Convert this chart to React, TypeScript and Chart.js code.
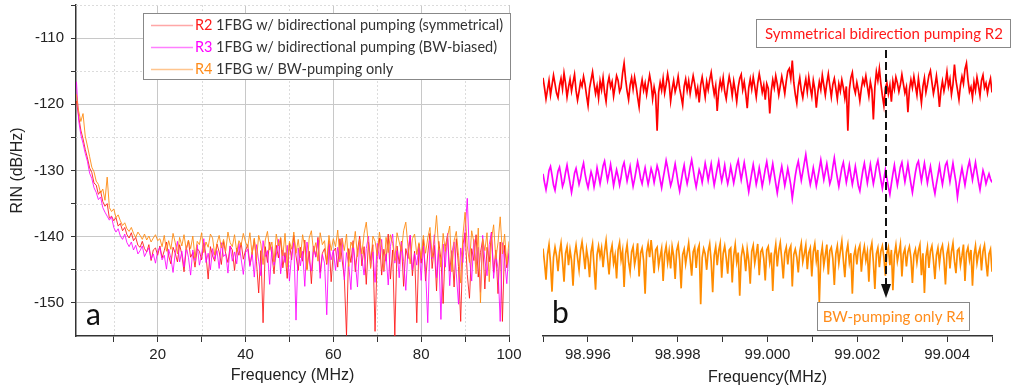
import React, { useEffect, useRef } from "react";
import { Chart, registerables } from "chart.js";
Chart.register(...registerables);

// ---------- Panel a data (frequency 1.5 .. 100 MHz, 0.5 MHz step) ----------
const A_START = 1.5;
const A_STEP = 0.5;
const R2_A = [
  -119.5, -121.8, -123.9, -125.2, -126.8, -128.1, -129.6, -130.3, -131.9, -132.2,
  -133.6, -133.1, -134.7, -135.4, -135.0, -137.2, -136.9, -137.6, -137.1, -138.4,
  -138.0, -139.1, -138.6, -139.7, -140.2, -139.4, -140.6, -140.1, -141.3, -141.6,
  -140.7, -141.8, -142.3, -141.2, -143.6, -142.0, -141.7, -142.8,
  -141.4, -143.2, -142.1, -140.8, -142.9, -144.1, -141.6, -142.5, -143.8, -141.2,
  -142.7, -145.3, -141.9, -140.6, -143.1, -142.4, -144.6, -141.8, -142.2, -143.5,
  -140.9, -142.8, -146.4, -141.5, -142.9, -143.7, -141.1, -142.3, -144.2, -140.7,
  -142.6, -143.9, -141.4, -142.0, -145.1, -141.7, -142.8, -140.9, -143.4, -142.1,
  -141.2, -144.3, -142.6, -140.4, -143.8, -148.5, -142.1, -153.0, -141.5, -143.9,
  -140.8, -142.7, -145.6, -141.3, -143.2, -140.2, -144.7, -142.4, -146.3, -141.0,
  -143.5, -139.8, -142.9, -145.1, -141.6, -143.7, -140.5, -144.9, -142.2, -147.1,
  -141.4, -143.0, -140.1, -145.4, -142.5, -141.8, -144.2, -140.6, -146.8, -142.3,
  -141.7, -144.6, -140.3, -143.5, -146.2, -154.9, -141.8, -143.9, -140.6, -145.3,
  -142.1, -139.9, -144.4, -141.5, -147.2, -140.8, -143.6, -141.2, -154.3, -142.4,
  -140.2, -145.8, -141.9, -143.7, -139.6, -146.4, -142.0, -155.0, -141.4, -144.1,
  -140.7, -147.5, -141.8, -143.3, -139.8, -145.9, -142.2, -153.0, -141.1, -144.0,
  -140.4, -146.7, -142.6, -139.5, -144.8, -141.3, -148.2, -140.7, -143.4, -150.1,
  -141.5, -139.8, -145.2, -142.1, -147.6, -140.3, -144.5, -152.8, -141.2, -139.4,
  -145.7, -149.3, -141.8, -143.6, -139.7, -146.1, -142.4, -140.5, -147.9, -141.6,
  -143.8, -139.3, -145.4, -142.0, -148.6, -140.8, -152.8, -141.3, -144.7, -142.5,
];
const R3_A = [
  -116.6, -122.4, -124.6, -125.9, -127.4, -128.6, -130.4, -131.2, -132.6, -133.3,
  -134.4, -134.0, -135.6, -136.3, -136.9, -137.5, -137.0, -138.6, -139.3, -138.8,
  -139.9, -140.4, -139.6, -140.9, -141.5, -140.8, -142.0, -141.3, -142.6, -142.1,
  -141.4, -143.0, -142.3, -141.7, -143.4, -142.6, -144.0, -142.2,
  -141.6, -143.5, -142.8, -144.9, -141.9, -143.2, -145.4, -142.4, -140.7, -143.8,
  -142.2, -144.6, -141.5, -143.1, -145.8, -142.0, -143.6, -141.2, -144.3, -142.7,
  -140.3, -143.9, -142.5, -145.0, -141.8, -143.4, -142.1, -144.8, -140.9, -143.0,
  -142.6, -145.5, -141.4, -143.7, -142.3, -144.1, -141.0, -143.3, -145.7, -142.4,
  -141.9, -144.5, -142.3, -146.1, -141.2, -143.7, -145.9, -140.6, -143.0, -142.1,
  -147.2, -141.5, -144.3, -142.8, -140.4, -145.6, -142.0, -143.9, -141.3, -146.7,
  -142.6, -140.9, -152.6, -141.7, -144.4, -142.2, -147.5, -140.8, -143.6, -145.2,
  -141.4, -143.1, -140.5, -146.3, -142.7, -144.0, -151.8, -141.1, -143.5, -142.0,
  -145.1, -141.6, -143.8, -140.2, -146.5, -142.4, -144.2, -148.0, -141.3, -143.9,
  -147.6, -140.7, -143.2, -145.8, -141.8, -139.9, -144.6, -142.3, -146.9, -141.0,
  -143.4, -140.4, -145.3, -142.6, -147.3, -141.5, -139.6, -144.0, -142.1, -146.2,
  -140.8, -143.7, -148.1, -141.9, -139.8, -145.0, -142.5, -144.3, -141.2, -146.6,
  -141.4, -144.9, -153.0, -140.6, -143.3, -139.7, -146.2, -142.0, -152.5, -141.1,
  -144.6, -139.5, -147.4, -142.3, -140.8, -145.5, -150.2, -141.7, -143.9, -139.2,
  -134.2, -143.1, -146.7, -140.4, -144.2, -141.6, -148.4, -139.8, -143.5, -145.9,
  -141.2, -139.4, -146.3, -142.7, -144.8, -152.8, -140.9, -143.6, -147.1, -141.8,
];
const R4_A = [
  -118.5, -121.0, -122.6, -121.4, -124.8, -126.3, -127.9, -129.5, -130.2, -131.6,
  -132.1, -133.4, -132.8, -134.5, -131.0, -135.6, -136.2, -135.8, -137.1, -136.7,
  -137.6, -138.3, -137.9, -138.8, -139.2, -138.6, -139.5, -140.1, -139.3, -139.8,
  -140.4, -139.6, -140.5, -139.9, -140.8, -140.2, -139.7, -140.6,
  -140.3, -141.5, -139.8, -142.2, -140.6, -141.9, -139.5, -140.9, -142.6, -140.1,
  -141.4, -139.7, -142.0, -140.5, -141.8, -139.9, -143.2, -140.7, -141.2, -139.4,
  -142.4, -140.8, -141.6, -139.6, -140.2, -142.8, -141.0, -139.8, -141.7, -140.4,
  -142.1, -139.3, -140.9, -141.5, -139.7, -142.3, -140.6, -141.3, -139.5, -140.8,
  -141.6, -139.4, -142.7, -140.2, -143.5, -139.8, -141.1, -144.2, -140.5, -139.2,
  -142.0, -140.8, -143.8, -139.6, -141.4, -140.1, -142.9, -139.5, -144.6, -140.7,
  -141.9, -139.3, -142.5, -140.4, -143.2, -139.7, -141.6, -145.1, -140.2, -139.1,
  -142.3, -140.9, -143.7, -139.4, -141.2, -140.6, -144.0, -139.8, -142.1, -140.3,
  -141.5, -139.0, -143.4, -140.2, -142.1, -139.6, -144.5, -140.8, -141.7, -139.2,
  -143.0, -140.4, -142.6, -139.5, -137.8, -141.3, -144.8, -139.9, -140.7, -142.9,
  -139.3, -141.6, -145.2, -140.1, -142.4, -139.7, -141.0, -143.6, -139.4, -140.8,
  -142.2, -139.1, -137.8, -141.5, -144.1, -140.3, -139.6, -142.7, -140.9, -143.3,
  -139.8, -142.5, -140.2, -138.6, -143.1, -140.7, -136.8, -141.9, -144.6, -139.5,
  -142.2, -140.0, -138.4, -145.3, -140.6, -139.2, -142.8, -147.0, -139.9, -136.3,
  -141.4, -143.9, -139.1, -140.8, -145.6, -138.7, -150.0, -140.3, -142.1, -139.4,
  -146.8, -140.5, -138.2, -143.4, -140.9, -137.0, -142.6, -139.6, -144.2, -140.7,
];
const A_X_TICKS = [10, 20, 30, 40, 50, 60, 70, 80, 90, 100];
const A_X_LABELED = [20, 40, 60, 80, 100];
const A_Y_TICKS = [-150, -145, -140, -135, -130, -125, -120, -115, -110, -105];
const A_Y_LABELED = [-150, -140, -130, -120, -110];
const LEGEND_A = [
  { tag: "R2", text: "1FBG w/ bidirectional pumping (symmetrical)", color: "#ff1a1a", line: "rgba(255,60,60,0.45)" },
  { tag: "R3", text: "1FBG w/ bidirectional pumping (BW-biased)", color: "#ff00ff", line: "rgba(255,0,255,0.5)" },
  { tag: "R4", text: "1FBG w/ BW-pumping only", color: "#ff8c1a", line: "rgba(255,140,30,0.5)" },
];

// ---------- Panel b data (98.995 .. 99.005 MHz, 300 samples) ----------
const B_START = 98.995;
const B_END = 99.005;
const R2_B = [
  -116.0, -117.5, -119.2, -117.8, -116.4, -118.6, -117.1, -115.6, -116.9, -118.3,
  -119.0, -117.2, -116.1, -117.7, -115.3, -116.8, -118.9, -117.4, -116.2, -118.0,
  -116.7, -115.5, -117.9, -119.4, -118.1, -116.6, -117.3, -115.8, -117.0, -118.7,
  -120.2, -117.6, -116.3, -115.1, -116.9, -118.4, -117.2, -119.1, -116.5, -117.8,
  -116.0, -118.2, -119.6, -117.0, -115.9, -117.4, -116.6, -118.8, -117.3, -115.7,
  -116.4, -118.1, -117.5, -115.3, -113.8, -116.2, -118.0, -119.3, -117.1, -116.0,
  -117.7, -115.9, -117.2, -118.9, -120.4, -117.6, -116.3, -117.9, -116.8, -118.5,
  -117.0, -115.6, -116.9, -119.2, -117.4, -118.6, -124.0, -118.2, -116.7, -117.9,
  -116.1, -118.3, -117.0, -115.4, -116.8, -119.5, -117.7, -116.4, -118.1, -117.2,
  -115.8, -117.6, -118.8, -120.1, -117.3, -116.2, -117.9, -116.5, -118.4, -117.0,
  -115.7, -116.9, -118.6, -117.5, -119.7, -117.1, -115.9, -117.4, -118.9, -116.6,
  -117.8, -116.3, -115.2, -117.0, -118.5, -117.2, -121.0, -118.0, -116.4, -117.6,
  -116.0, -118.1, -119.2, -117.3, -115.8, -117.0, -118.7, -116.5, -117.9, -119.6,
  -117.4, -116.1, -115.5, -117.8, -116.6, -118.3, -120.6, -117.5, -116.2, -117.7,
  -115.9, -117.3, -118.9, -116.8, -115.4, -116.7, -118.2, -117.1, -119.3, -116.9,
  -117.6, -121.4, -118.0, -116.3, -117.5, -115.7, -116.9, -118.6, -117.2, -115.8,
  -117.0, -118.4, -116.5, -115.0, -114.6, -116.1, -113.4, -116.7, -118.5, -119.8,
  -117.3, -116.0, -117.9, -119.0, -117.4, -116.2, -118.1, -115.9, -117.5, -118.8,
  -116.4, -117.7, -120.5, -118.2, -116.6, -117.8, -115.6, -117.1, -118.6, -116.8,
  -115.4, -117.2, -118.9, -117.0, -116.1, -117.6, -119.2, -116.9, -118.0, -116.3,
  -117.5, -119.1, -117.3, -124.0, -117.8, -116.0, -115.2, -117.4, -118.3, -116.7,
  -117.9, -119.5, -117.6, -116.2, -117.0, -115.7, -117.3, -118.8, -116.6, -117.8,
  -122.3, -117.4, -115.1, -116.4, -114.6, -116.9, -118.7, -120.2, -117.5, -116.8,
  -118.4, -117.1, -119.6, -116.5, -117.7, -115.9, -116.8, -118.1, -117.0, -115.5,
  -116.9, -118.3, -117.4, -121.2, -117.8, -116.3, -117.5, -115.8, -117.2, -118.6,
  -116.1, -117.9, -119.8, -117.3, -116.0, -118.2, -117.0, -115.6, -114.9, -116.7,
  -118.4, -117.2, -115.7, -117.6, -120.4, -117.9, -116.5, -118.0, -116.8, -115.1,
  -117.3, -116.2, -118.5, -117.0, -114.0, -116.4, -117.8, -119.3, -117.1, -115.8,
  -116.9, -114.7, -113.8, -116.3, -118.1, -117.4, -119.0, -116.6, -117.9, -115.9,
  -117.2, -118.7, -116.4, -115.6, -117.5, -116.8, -118.3, -117.0, -116.1, -118.2,
];
const R3_B = [
  -130.5, -131.8, -132.9, -131.6, -130.0, -129.4, -130.7, -132.2, -133.0, -131.5,
  -130.1, -129.5, -130.8, -132.4, -131.7, -130.3, -129.2, -130.6, -131.9, -133.3,
  -132.0, -130.4, -129.7, -130.9, -132.1, -131.2, -129.8, -128.9, -130.5, -131.7,
  -132.6, -131.4, -130.2, -131.0, -132.5, -131.3, -129.6, -130.8, -132.0, -130.7,
  -129.3, -128.6, -130.1, -131.5, -130.4, -129.1, -130.6, -132.3, -131.1, -129.9,
  -130.9, -132.2, -131.0, -129.5, -128.8, -130.2, -131.6, -130.5, -129.4, -131.0,
  -132.4, -131.3, -130.0, -128.7, -129.8, -131.2, -132.0, -130.7, -129.6, -130.9,
  -132.1, -131.0, -129.7, -130.5, -131.8, -130.6, -129.3, -130.1, -131.4, -132.6,
  -131.2, -129.9, -128.5, -129.6, -131.0, -132.3, -131.5, -130.2, -129.0, -130.4,
  -131.9, -133.1, -131.7, -130.3, -129.2, -130.8, -132.0, -130.9, -129.5, -128.4,
  -129.8, -131.3, -132.5, -131.2, -129.9, -130.6, -131.8, -130.4, -128.9, -130.1,
  -131.5, -130.2, -129.0, -130.7, -132.2, -131.0, -129.7, -128.6, -130.3, -131.6,
  -130.5, -129.2, -130.8, -132.0, -130.9, -129.4, -130.6, -131.9, -130.7, -129.3,
  -128.5, -130.0, -131.4, -130.1, -128.8, -130.2, -131.7, -133.2, -131.8, -130.4,
  -129.1, -130.5, -132.1, -131.0, -129.6, -130.9, -132.4, -131.2, -129.8, -128.7,
  -130.2, -131.6, -130.3, -129.0, -130.5, -132.0, -133.4, -131.9, -130.6, -129.4,
  -130.8, -132.3, -131.1, -129.7, -130.9, -132.2, -134.2, -132.5, -130.8, -129.5,
  -128.6, -130.1, -131.5, -130.2, -128.9, -127.6, -129.3, -130.8, -132.1, -131.0,
  -129.6, -130.9, -132.3, -131.1, -129.8, -128.4, -129.9, -131.4, -130.2, -129.0,
  -130.5, -132.0, -131.2, -129.5, -128.1, -129.7, -131.1, -132.4, -131.0, -129.6,
  -128.8, -130.3, -131.8, -130.6, -129.2, -130.7, -132.1, -130.9, -129.4, -130.8,
  -132.3, -133.1, -131.5, -130.0, -128.9, -130.4, -131.9, -130.5, -129.1, -130.6,
  -132.0, -130.8, -129.3, -128.5, -130.0, -131.4, -132.7, -131.3, -129.9, -131.2,
  -132.5, -133.6, -132.0, -130.5, -129.2, -130.8, -132.2, -130.9, -129.5, -128.8,
  -130.3, -131.7, -130.4, -129.0, -130.6, -132.0, -133.3, -131.8, -130.3, -129.1,
  -128.6, -130.1, -131.6, -130.2, -128.9, -130.4, -131.9, -130.6, -129.4, -130.9,
  -132.4, -133.5, -132.0, -130.7, -129.3, -130.8, -132.1, -130.7, -129.2, -128.7,
  -130.2, -131.7, -130.3, -128.9, -130.4, -131.8, -134.0, -132.3, -130.9, -129.6,
  -130.9, -132.2, -130.8, -129.5, -128.6, -130.0, -131.4, -130.1, -128.8, -130.3,
  -131.7, -132.9, -131.4, -130.0, -130.8, -132.0, -131.2, -130.5, -131.3, -131.8,
];
const R4_B = [
  -141.8, -143.9, -146.5, -142.7, -141.2, -144.0, -148.3, -143.1, -141.6, -142.9,
  -145.2, -142.4, -141.0, -143.7, -146.8, -142.5, -141.5, -144.3, -142.0, -143.6,
  -147.4, -142.8, -141.3, -143.2, -145.0, -142.1, -140.8, -142.6, -144.9, -141.9,
  -143.4, -146.1, -142.3, -141.1, -144.5, -148.0, -142.7, -141.4, -143.0, -141.7,
  -144.6, -142.2, -140.6, -143.3, -145.7, -142.4, -141.3, -144.0, -142.8, -146.3,
  -142.0, -140.9, -143.5, -142.1, -147.6, -142.6, -141.2, -143.8, -145.3, -142.3,
  -141.5, -144.2, -142.9, -141.0, -146.0, -142.5, -141.7, -143.6, -148.6, -142.4,
  -141.1, -143.1, -140.5, -142.8, -145.5, -142.0, -141.6, -144.4, -143.0, -141.8,
  -146.7, -142.6, -141.4, -143.9, -142.2, -144.8, -141.5, -142.9, -146.4, -142.1,
  -141.2, -143.5, -147.8, -142.7, -141.9, -144.1, -142.5, -141.0, -143.4, -145.9,
  -142.3, -141.6, -144.7, -142.0, -141.3, -150.2, -143.2, -141.8, -142.6, -145.0,
  -142.2, -141.1, -143.7, -148.4, -142.8, -141.5, -144.3, -142.1, -141.0, -146.2,
  -142.5, -141.4, -143.2, -145.6, -142.0, -141.7, -146.9, -142.9, -141.2, -143.8,
  -142.4, -148.9, -143.1, -141.6, -142.7, -145.2, -141.9, -143.6, -147.1, -142.2,
  -141.3, -144.0, -142.6, -141.1, -145.8, -142.3, -141.8, -143.3, -146.6, -142.0,
  -141.5, -143.9, -142.4, -148.2, -142.8, -141.2, -144.5, -142.1, -140.9, -143.4,
  -146.3, -142.5, -141.6, -144.2, -142.0, -141.4, -147.5, -142.7, -141.9, -143.1,
  -145.4, -142.2, -141.0, -143.8, -142.6, -141.3, -144.9, -142.4, -141.7, -146.0,
  -142.3, -141.1, -143.6, -142.0, -150.0, -143.0, -141.5, -144.4, -142.8, -141.2,
  -145.7, -142.1, -141.6, -143.3, -147.3, -142.6, -141.4, -144.0, -142.2, -140.7,
  -143.5, -146.1, -142.4, -141.2, -143.9, -142.5, -148.6, -142.9, -141.8, -144.2,
  -142.0, -141.3, -145.3, -142.7, -141.5, -143.6, -142.3, -146.8, -142.1, -141.0,
  -143.8, -147.9, -142.6, -141.7, -144.6, -142.2, -141.4, -143.1, -145.9, -142.5,
  -141.6, -144.3, -142.0, -148.1, -142.8, -141.3, -143.7, -142.4, -141.1, -146.0,
  -142.6, -141.8, -144.5, -142.3, -141.5, -143.2, -147.0, -142.7, -141.9, -143.9,
  -142.1, -141.2, -145.8, -142.5, -148.5, -143.0, -141.6, -144.7, -142.2, -141.4,
  -143.6, -146.4, -142.8, -141.7, -144.1, -142.0, -141.3, -143.4, -147.2, -142.6,
  -141.5, -144.8, -142.3, -141.0, -143.7, -145.5, -142.1, -141.8, -144.3, -142.9,
  -141.2, -146.7, -142.4, -141.6, -143.5, -142.0, -147.4, -142.8, -141.4, -144.0,
  -142.5, -141.7, -145.1, -142.2, -141.3, -143.8, -146.0, -142.6, -141.9, -145.3,
];
const B_X_TICKS = [98.995, 98.996, 98.997, 98.998, 98.999, 99.0, 99.001, 99.002, 99.003, 99.004, 99.005];
const B_X_LABELS = ["", "98.996", "", "98.998", "", "99.000", "", "99.002", "", "99.004", ""];
const ARROW_FREQ = 99.00264;
const NOTE_TOP = "Symmetrical bidirection pumping R2";
const NOTE_BOTTOM = "BW-pumping only R4";

const FREQ_A = R2_A.map((_, i) => A_START + A_STEP * i);
const FREQ_B = R2_B.map((_, i) => B_START + ((B_END - B_START) * i) / (R2_B.length - 1));

const TICK_FONT = { family: "'Liberation Sans', Arial, sans-serif", size: 15 };
const TITLE_FONT = { family: "'Liberation Sans', Arial, sans-serif", size: 16 };
const AXIS_COLOR = "#333";
const TEXT_COLOR = "#222";
const NOTE_FONT = "14.5px Lato, 'Open Sans', sans-serif";

const panelAPlugin = {
  id: "panelA",
  beforeDatasetsDraw(chart: any) {
    const { ctx, chartArea } = chart;
    const xs = chart.scales.x;
    const ys = chart.scales.y;
    ctx.save();
    ctx.strokeStyle = "#dcdcdc";
    ctx.lineWidth = 1;
    ctx.setLineDash([2, 2]);
    A_X_TICKS.filter((v) => !A_X_LABELED.includes(v)).forEach((v) => {
      const x = Math.round(xs.getPixelForValue(v)) + 0.5;
      ctx.beginPath();
      ctx.moveTo(x, chartArea.top);
      ctx.lineTo(x, chartArea.bottom);
      ctx.stroke();
    });
    A_Y_TICKS.filter((v) => !A_Y_LABELED.includes(v)).forEach((v) => {
      const y = Math.round(ys.getPixelForValue(v)) + 0.5;
      ctx.beginPath();
      ctx.moveTo(chartArea.left, y);
      ctx.lineTo(chartArea.right, y);
      ctx.stroke();
    });
    ctx.restore();
  },
  afterDraw(chart: any) {
    const { ctx } = chart;
    ctx.save();
    ctx.fillStyle = "#fff";
    ctx.fillRect(143, 13, 367, 66);
    ctx.strokeStyle = "#888";
    ctx.lineWidth = 1;
    ctx.strokeRect(143.5, 13.5, 367, 66);
    ctx.font = NOTE_FONT;
    ctx.textBaseline = "middle";
    LEGEND_A.forEach((e, i) => {
      const y = 25 + 22 * i;
      ctx.strokeStyle = e.line;
      ctx.lineWidth = 1.5;
      ctx.beginPath();
      ctx.moveTo(151, y + 0.5);
      ctx.lineTo(193, y + 0.5);
      ctx.stroke();
      ctx.fillStyle = e.color;
      ctx.textAlign = "left";
      ctx.fillText(e.tag, 195, y);
      ctx.fillStyle = "#333";
      ctx.fillText(e.text, 216, y);
    });
    ctx.fillStyle = "#111";
    ctx.font = "30px Lato, 'Open Sans', sans-serif";
    ctx.textBaseline = "alphabetic";
    ctx.fillText("a", 86, 325);
    ctx.restore();
  },
};

const panelBPlugin = {
  id: "panelB",
  afterDraw(chart: any) {
    const { ctx } = chart;
    const xs = chart.scales.x;
    const ax = Math.round(xs.getPixelForValue(ARROW_FREQ));
    ctx.save();
    ctx.strokeStyle = "#111";
    ctx.lineWidth = 2;
    ctx.setLineDash([8, 4]);
    ctx.beginPath();
    ctx.moveTo(ax, 50);
    ctx.lineTo(ax, 286);
    ctx.stroke();
    ctx.setLineDash([]);
    ctx.fillStyle = "#111";
    ctx.beginPath();
    ctx.moveTo(ax - 5, 284);
    ctx.lineTo(ax + 5, 284);
    ctx.lineTo(ax, 298);
    ctx.closePath();
    ctx.fill();
    ctx.font = "15px Lato, 'Open Sans', sans-serif";
    ctx.textBaseline = "middle";
    ctx.textAlign = "center";
    ctx.fillStyle = "#fff";
    ctx.fillRect(226, 19, 255, 28);
    ctx.strokeStyle = "#888";
    ctx.lineWidth = 1;
    ctx.strokeRect(226.5, 19.5, 254, 28);
    ctx.fillStyle = "#ff1a1a";
    ctx.fillText(NOTE_TOP, 354, 34);
    ctx.fillStyle = "#fff";
    ctx.fillRect(287, 302, 152, 28);
    ctx.strokeRect(287.5, 302.5, 152, 28);
    ctx.fillStyle = "#ff8c1a";
    ctx.fillText(NOTE_BOTTOM, 363.5, 317);
    ctx.textAlign = "left";
    ctx.textBaseline = "alphabetic";
    ctx.fillStyle = "#111";
    ctx.font = "30px Lato, 'Open Sans', sans-serif";
    ctx.fillText("b", 22, 323);
    ctx.restore();
  },
};

function makeA(canvas: HTMLCanvasElement) {
  const mk = (vals: number[]) => FREQ_A.map((x, i) => ({ x, y: vals[i] }));
  return new Chart(canvas, {
    type: "line",
    data: {
      datasets: [
        { label: "R4", data: mk(R4_A), borderColor: "rgba(255,140,20,0.9)", borderWidth: 1 },
        { label: "R3", data: mk(R3_A), borderColor: "rgba(255,0,255,0.85)", borderWidth: 1 },
        { label: "R2", data: mk(R2_A), borderColor: "rgba(255,20,20,0.85)", borderWidth: 1 },
      ],
    },
    options: {
      responsive: false,
      animation: false,
      devicePixelRatio: 1,
      layout: { padding: { left: 0, right: 21, top: 5, bottom: 0 } },
      elements: { point: { radius: 0 }, line: { tension: 0 } },
      plugins: { legend: { display: false }, tooltip: { enabled: false } },
      scales: {
        x: {
          type: "linear",
          min: 1.4,
          max: 100,
          afterBuildTicks: (s: any) => {
            s.ticks = A_X_TICKS.map((v) => ({ value: v }));
          },
          afterFit: (s: any) => {
            s.height = 54;
            s.paddingLeft = 0;
            s.paddingRight = 0;
          },
          ticks: {
            autoSkip: false,
            maxRotation: 0,
            padding: 4,
            font: TICK_FONT,
            color: TEXT_COLOR,
            callback: (v: any) => (A_X_LABELED.includes(v) ? String(v) : ""),
          },
          grid: {
            color: (c: any) => (c.tick && A_X_LABELED.includes(c.tick.value) ? "#c8c8c8" : "rgba(0,0,0,0)"),
            tickColor: AXIS_COLOR,
            tickLength: 6,
            lineWidth: 1,
          },
          border: { color: AXIS_COLOR, width: 1.5 },
          title: { display: true, text: "Frequency (MHz)", font: TITLE_FONT, color: TEXT_COLOR, padding: { top: 0, bottom: 5 } },
        },
        y: {
          type: "linear",
          min: -155,
          max: -105,
          afterBuildTicks: (s: any) => {
            s.ticks = A_Y_TICKS.map((v) => ({ value: v }));
          },
          afterFit: (s: any) => {
            s.width = 76;
            s.paddingTop = 0;
            s.paddingBottom = 0;
          },
          ticks: {
            autoSkip: false,
            padding: 7,
            font: TICK_FONT,
            color: TEXT_COLOR,
            callback: (v: any) => (A_Y_LABELED.includes(v) ? String(v) : ""),
          },
          grid: {
            color: (c: any) => (c.tick && A_Y_LABELED.includes(c.tick.value) ? "#c8c8c8" : "rgba(0,0,0,0)"),
            tickColor: AXIS_COLOR,
            tickLength: 5,
            lineWidth: 1,
          },
          border: { color: AXIS_COLOR, width: 1.5 },
          title: { display: true, text: "RIN (dB/Hz)", font: TITLE_FONT, color: TEXT_COLOR, padding: { top: 8, bottom: 0 } },
        },
      },
    },
    plugins: [panelAPlugin],
  } as any);
}

function makeB(canvas: HTMLCanvasElement) {
  const mk = (vals: number[]) => FREQ_B.map((x, i) => ({ x, y: vals[i] }));
  return new Chart(canvas, {
    type: "line",
    data: {
      datasets: [
        { label: "R2", data: mk(R2_B), borderColor: "#ff0000", borderWidth: 1.7 },
        { label: "R3", data: mk(R3_B), borderColor: "#ff00ff", borderWidth: 1.7 },
        { label: "R4", data: mk(R4_B), borderColor: "#ff8c00", borderWidth: 1.7 },
      ],
    },
    options: {
      responsive: false,
      animation: false,
      devicePixelRatio: 1,
      layout: { padding: { left: 13, right: 20, top: 5, bottom: 0 } },
      elements: { point: { radius: 0 }, line: { tension: 0 } },
      plugins: { legend: { display: false }, tooltip: { enabled: false } },
      scales: {
        x: {
          type: "linear",
          min: B_START,
          max: B_END,
          afterBuildTicks: (s: any) => {
            s.ticks = B_X_TICKS.map((v) => ({ value: v }));
          },
          afterFit: (s: any) => {
            s.height = 54;
            s.paddingLeft = 0;
            s.paddingRight = 0;
          },
          ticks: {
            autoSkip: false,
            maxRotation: 0,
            padding: 4,
            font: TICK_FONT,
            color: TEXT_COLOR,
            callback: (_v: any, i: number) => B_X_LABELS[i] ?? "",
          },
          grid: { drawOnChartArea: false, tickColor: AXIS_COLOR, tickLength: 6 },
          border: { color: AXIS_COLOR, width: 1.5 },
          title: { display: true, text: "Frequency(MHz)", font: TITLE_FONT, color: TEXT_COLOR, padding: { top: 0, bottom: 3 } },
        },
        y: { type: "linear", display: false, min: -155, max: -105 },
      },
    },
    plugins: [panelBPlugin],
  } as any);
}

export default function App() {
  const refA = useRef<HTMLCanvasElement>(null);
  const refB = useRef<HTMLCanvasElement>(null);
  useEffect(() => {
    const a = makeA(refA.current!);
    const b = makeB(refB.current!);
    return () => {
      a.destroy();
      b.destroy();
    };
  }, []);
  return (
    <div style={{ position: "fixed", left: 0, top: 0, width: 1012, height: 390, background: "#fff", overflow: "hidden" }}>
      <canvas ref={refA} width={530} height={390} style={{ position: "absolute", left: 0, top: 0, width: 530, height: 390 }} />
      <canvas ref={refB} width={482} height={390} style={{ position: "absolute", left: 530, top: 0, width: 482, height: 390 }} />
    </div>
  );
}
